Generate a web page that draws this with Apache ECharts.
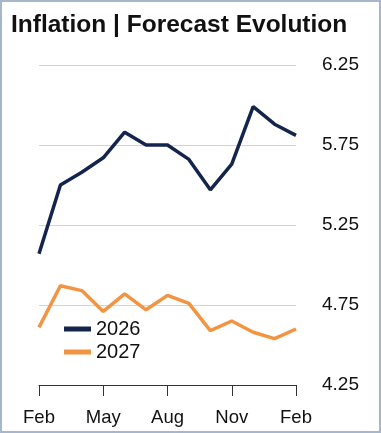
<!DOCTYPE html>
<html><head><meta charset="utf-8">
<script src="https://cdn.jsdelivr.net/npm/echarts@6/dist/echarts.min.js"></script>
<style>
html,body{margin:0;padding:0;background:#fff;}
#c{position:absolute;left:0;top:0;width:377px;height:429px;border:2px solid #a7b6cc;}
</style></head>
<body><div id="c"></div>
<script>
const titleText = "Inflation | Forecast Evolution";
const months = ["Feb","Mar","Apr","May","Jun","Jul","Aug","Sep","Oct","Nov","Dec","Jan","Feb"];
const s2026 = [5.07,5.50,5.58,5.67,5.83,5.75,5.75,5.66,5.47,5.63,5.99,5.88,5.81];
const s2027 = [4.61,4.87,4.84,4.71,4.82,4.72,4.81,4.76,4.59,4.65,4.58,4.54,4.60];
const yMin = 4.25, yMax = 6.25, yStep = 0.5;

const chart = echarts.init(document.getElementById('c'), null, {renderer:'canvas'});
chart.setOption({
  animation:false,
  textStyle:{fontFamily:'Liberation Sans, Arial, sans-serif'},
  title:{text:titleText,left:4,top:6,textStyle:{fontSize:24.5,fontWeight:'bold',color:'#111',fontFamily:'Liberation Sans, Arial, sans-serif'}},
  legend:{orient:'vertical',left:57,top:312,itemWidth:27,itemHeight:5,itemGap:3,
    icon:'rect',textStyle:{fontSize:20,color:'#111'},data:['2026','2027']},
  grid:{left:37,right:83,top:63,bottom:46},
  xAxis:{type:'category',data:months,boundaryGap:false,
    axisLine:{lineStyle:{color:'#333',width:1}},
    axisTick:{interval:2,length:11,inside:false,lineStyle:{color:'#333'}},
    axisLabel:{interval:2,fontSize:18.5,color:'#111',margin:23},
    splitLine:{show:false}},
  yAxis:{type:'value',position:'right',min:yMin,max:yMax,interval:yStep,
    axisLine:{show:false},axisTick:{show:false},
    axisLabel:{fontSize:19,color:'#111',margin:26,formatter:v=>v.toFixed(2)},
    splitLine:{lineStyle:{color:'#d4d4d4',width:1}}},
  series:[
    {name:'2026',type:'line',data:s2026,symbol:'none',lineStyle:{width:3.5,color:'#13244d'},itemStyle:{color:'#13244d'}},
    {name:'2027',type:'line',data:s2027,symbol:'none',lineStyle:{width:3.5,color:'#f39443'},itemStyle:{color:'#f39443'}}
  ]
});
</script></body></html>
